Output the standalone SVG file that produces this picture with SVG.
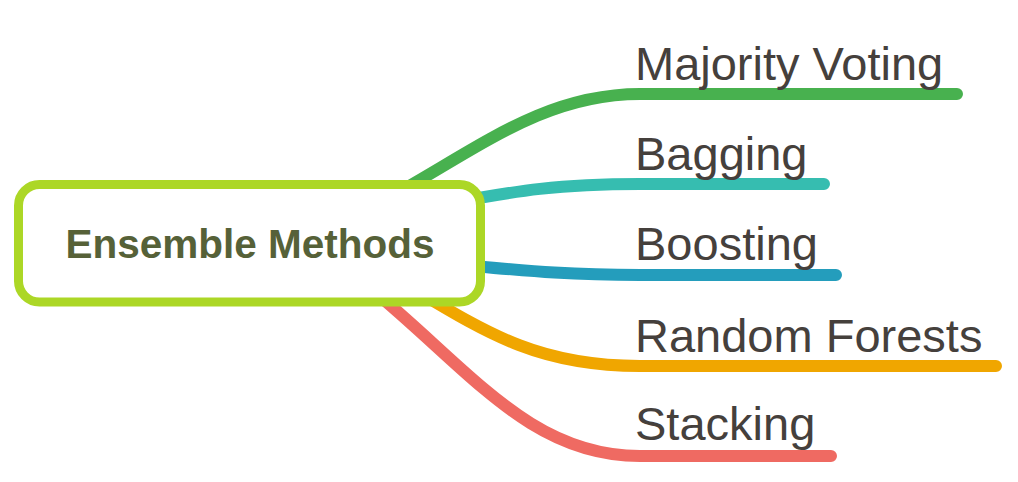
<svg xmlns="http://www.w3.org/2000/svg" width="1018" height="482" viewBox="0 0 1018 482">
  <style>
    .br { fill: none; stroke-width: 12; stroke-linecap: round; stroke-linejoin: round; }
    .lbl { font-family: "Liberation Sans", Arial, sans-serif; font-size: 47px; fill: #45403c; }
    .root-box { fill: #ffffff; stroke: #acd726; stroke-width: 9; }
    .root-txt { font-family: "Liberation Sans", Arial, sans-serif; font-size: 40.5px; font-weight: bold; fill: #566138; }
  </style>
  <rect width="1018" height="482" fill="#ffffff"/>
  <g id="connectors">
    <path class="br" stroke="#48b14f" d="M 390 197 C 480 147, 545 94, 640 94 L 957 94"/>
    <path class="br" stroke="#36bdb0" d="M 440 205 C 520 190, 560 184, 640 184 L 824 184"/>
    <path class="br" stroke="#249dbc" d="M 440 263 C 520 270, 560 275, 640 275 L 836 275"/>
    <path class="br" stroke="#f0a600" d="M 410 287 C 490 335, 540 366, 640 366 L 996 366"/>
    <path class="br" stroke="#ef6a62" d="M 370 288 C 470 370, 530 456, 640 456 L 831 456"/>
  </g>
  <g id="root">
    <rect class="root-box" x="18.5" y="184.5" width="462" height="117.5" rx="21"/>
    <text class="root-txt" x="250" y="258" text-anchor="middle">Ensemble Methods</text>
  </g>
  <g id="n-majority"><text class="lbl" x="635" y="80">Majority Voting</text></g>
  <g id="n-bagging"><text class="lbl" x="635" y="169.5">Bagging</text></g>
  <g id="n-boosting"><text class="lbl" x="635" y="259.5">Boosting</text></g>
  <g id="n-random"><text class="lbl" x="635" y="351.5">Random Forests</text></g>
  <g id="n-stacking"><text class="lbl" x="635" y="440">Stacking</text></g>
</svg>
